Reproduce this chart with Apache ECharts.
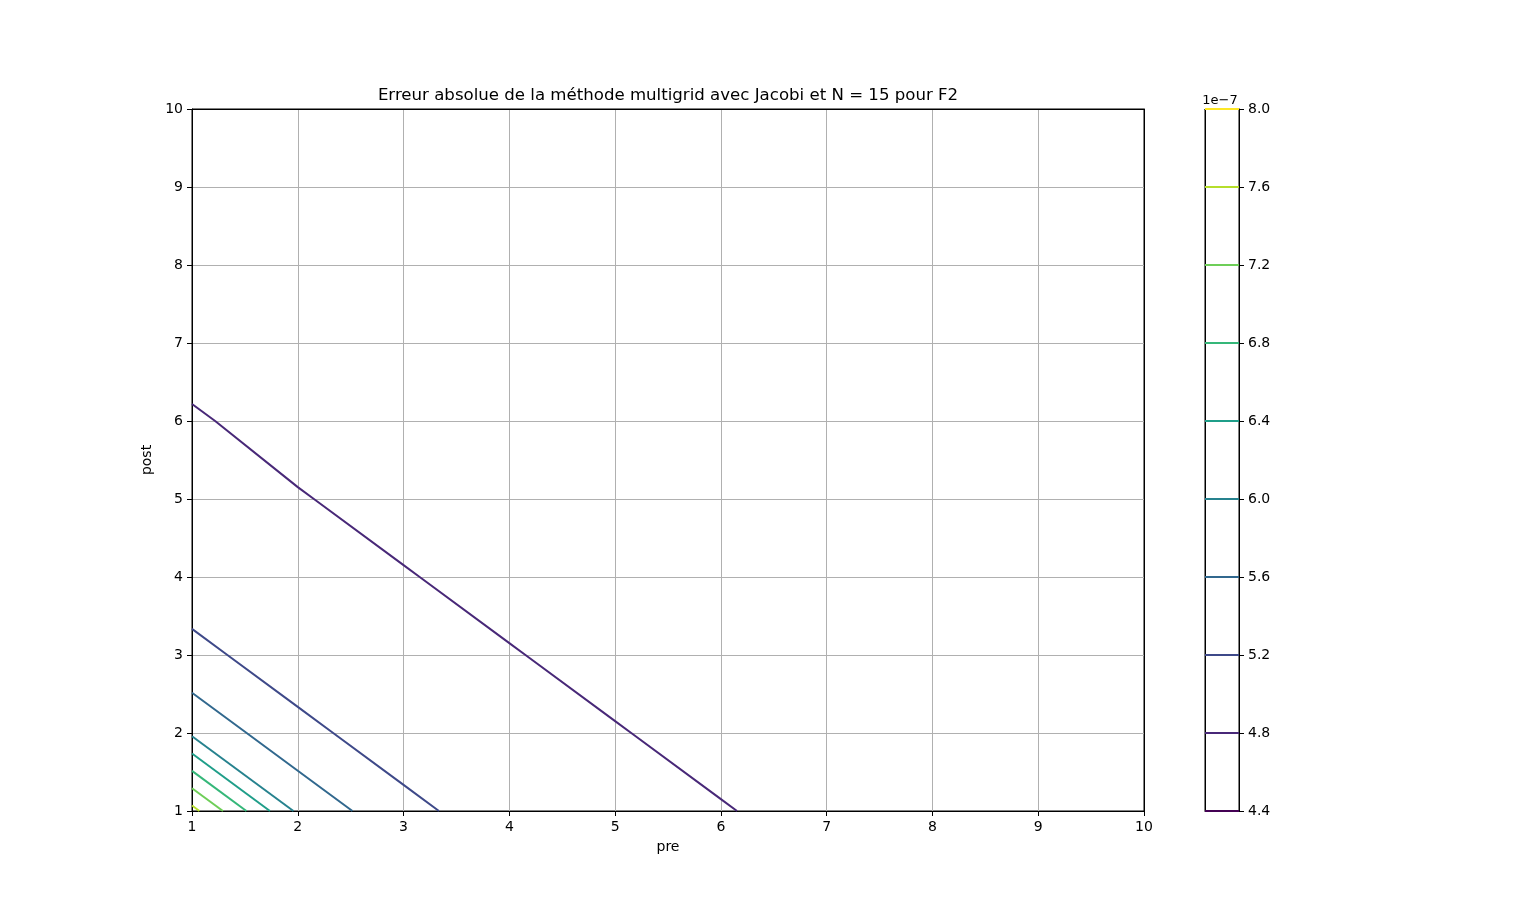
<!DOCTYPE html>
<html>
<head>
<meta charset="utf-8">
<script src="https://cdn.jsdelivr.net/npm/echarts@6/dist/echarts.min.js"></script>
<style>
html,body{margin:0;padding:0;background:#fff;}
#chart{width:1536px;height:911px;}
</style>
</head>
<body>
<div id="chart"></div>
<script>
// ---- data (error values in units of 1e-7) ----
const pre = [1, 2, 3, 4, 5, 6, 7, 8, 9, 10];
const post = [1, 2, 3, 4, 5, 6, 7, 8, 9, 10];
// rows: post = 1..10, columns: pre = 1..10
const errors = [
  [7.726, 5.926, 5.295, 5.011, 4.902, 4.818, 4.700, 4.641, 4.602, 4.574],
  [5.926, 5.295, 5.011, 4.902, 4.818, 4.700, 4.641, 4.602, 4.574, 4.553],
  [5.295, 5.011, 4.902, 4.818, 4.700, 4.641, 4.602, 4.574, 4.553, 4.537],
  [5.011, 4.902, 4.818, 4.700, 4.641, 4.602, 4.574, 4.553, 4.537, 4.524],
  [4.902, 4.818, 4.700, 4.641, 4.602, 4.574, 4.553, 4.537, 4.524, 4.514],
  [4.828, 4.700, 4.641, 4.602, 4.574, 4.553, 4.537, 4.524, 4.514, 4.506],
  [4.700, 4.641, 4.602, 4.574, 4.553, 4.537, 4.524, 4.514, 4.506, 4.499],
  [4.641, 4.602, 4.574, 4.553, 4.537, 4.524, 4.514, 4.506, 4.499, 4.494],
  [4.602, 4.574, 4.553, 4.537, 4.524, 4.514, 4.506, 4.499, 4.494, 4.489],
  [4.574, 4.553, 4.537, 4.524, 4.514, 4.506, 4.499, 4.494, 4.489, 4.485]
];
const levels = [4.4, 4.8, 5.2, 5.6, 6.0, 6.4, 6.8, 7.2, 7.6, 8.0];
const levelColors = ['#440154', '#482878', '#3e4989', '#31688e', '#26828e',
                     '#1f9e89', '#35b779', '#6ece58', '#b5de2b', '#fde725'];
const axisTicks = [1, 2, 3, 4, 5, 6, 7, 8, 9, 10];
const titleText = 'Erreur absolue de la méthode multigrid avec Jacobi et N = 15 pour F2';
const offsetText = '1e\u22127';

// ---- marching squares ----
function contourLines(L) {
  const segs = [];
  const nx = pre.length, ny = post.length;
  function cross(i1, j1, i2, j2) {
    const z1 = errors[j1][i1], z2 = errors[j2][i2];
    if ((z1 - L) * (z2 - L) >= 0 && !(z1 === L && z2 !== L)) return null;
    const t = (L - z1) / (z2 - z1);
    return [pre[i1] + t * (pre[i2] - pre[i1]), post[j1] + t * (post[j2] - post[j1])];
  }
  for (let j = 0; j < ny - 1; j++) {
    for (let i = 0; i < nx - 1; i++) {
      const pts = [];
      const b = cross(i, j, i + 1, j); if (b) pts.push(b);
      const r = cross(i + 1, j, i + 1, j + 1); if (r) pts.push(r);
      const t = cross(i, j + 1, i + 1, j + 1); if (t) pts.push(t);
      const l = cross(i, j, i, j + 1); if (l) pts.push(l);
      if (pts.length === 2) segs.push([pts[0], pts[1]]);
      else if (pts.length === 4) {
        const c = (errors[j][i] + errors[j][i + 1] + errors[j + 1][i] + errors[j + 1][i + 1]) / 4;
        if ((c - L) * (errors[j][i] - L) > 0) { segs.push([pts[0], pts[1]]); segs.push([pts[2], pts[3]]); }
        else { segs.push([pts[0], pts[3]]); segs.push([pts[1], pts[2]]); }
      }
    }
  }
  const key = p => p[0].toFixed(6) + ',' + p[1].toFixed(6);
  const used = new Array(segs.length).fill(false);
  const byKey = {};
  segs.forEach((s, k) => {
    [key(s[0]), key(s[1])].forEach(kk => { (byKey[kk] = byKey[kk] || []).push(k); });
  });
  const lines = [];
  function extend(line) {
    let grown = true;
    while (grown) {
      grown = false;
      const end = line[line.length - 1];
      const cand = byKey[key(end)] || [];
      for (const k of cand) {
        if (used[k]) continue;
        used[k] = true;
        const s = segs[k];
        line.push(key(s[0]) === key(end) ? s[1] : s[0]);
        grown = true;
        break;
      }
    }
  }
  for (let k = 0; k < segs.length; k++) {
    if (used[k]) continue;
    used[k] = true;
    const line = [segs[k][0], segs[k][1]];
    extend(line);
    line.reverse();
    extend(line);
    lines.push(line);
  }
  return lines;
}

const FONT = 'DejaVu Sans';
const series = [];
levels.forEach((L, idx) => {
  contourLines(L).forEach(line => {
    series.push({
      type: 'line', xAxisIndex: 0, yAxisIndex: 0,
      data: line, symbol: 'none', showSymbol: false, silent: true,
      lineStyle: { color: levelColors[idx], width: 2 },
      clip: true, animation: false, z: 3
    });
  });
  series.push({
    type: 'line', xAxisIndex: 1, yAxisIndex: 1,
    data: [[0, L], [1, L]], symbol: 'none', showSymbol: false, silent: true,
    lineStyle: { color: levelColors[idx], width: 2 },
    clip: false, animation: false, z: 3
  });
});

const axisCommon = {
  axisLine: { show: true, onZero: false, lineStyle: { color: '#000', width: 1 } },
  axisTick: { show: true, inside: false, length: 5, lineStyle: { color: '#000', width: 1 } },
  axisLabel: { fontSize: 14, color: '#000', margin: 9, fontFamily: FONT },
  nameTextStyle: { fontSize: 14, color: '#000', fontFamily: FONT }
};
const gridLine = { show: true, showMinLine: false, showMaxLine: false, lineStyle: { color: '#b0b0b0', width: 1 } };
// frame-only axes for spines
const spine = { show: true, onZero: false, lineStyle: { color: '#000', width: 1 } };
function spineAxis(gridIndex, position, min, max) {
  return { gridIndex: gridIndex, type: 'value', position: position, min: min, max: max, axisLine: spine,
    axisTick: { show: false }, axisLabel: { show: false }, splitLine: { show: false } };
}

const chart = echarts.init(document.getElementById('chart'), null, { renderer: 'canvas' });
chart.setOption({
  backgroundColor: '#fff',
  animation: false,
  grid: [
    { left: 192, top: 109, width: 952, height: 702, show: true, borderColor: '#000', borderWidth: 1, backgroundColor: '#fff' },
    { left: 1205, top: 109, width: 34, height: 702, show: true, borderColor: '#000', borderWidth: 1, backgroundColor: '#fff' }
  ],
  xAxis: [
    Object.assign({}, axisCommon, {
      gridIndex: 0, type: 'value', min: axisTicks[0], max: axisTicks[axisTicks.length - 1], interval: 1,
      name: 'pre', nameLocation: 'middle', nameGap: 29,
      splitLine: gridLine
    }),
    { gridIndex: 1, type: 'value', min: 0, max: 1, show: false },
    spineAxis(0, 'top', 1, 10),
    spineAxis(1, 'top', 0, 1),
    spineAxis(1, 'bottom', 0, 1)
  ],
  yAxis: [
    Object.assign({}, axisCommon, {
      gridIndex: 0, type: 'value', min: axisTicks[0], max: axisTicks[axisTicks.length - 1], interval: 1,
      name: 'post', nameLocation: 'middle', nameGap: 31,
      splitLine: gridLine
    }),
    Object.assign({}, axisCommon, {
      gridIndex: 1, type: 'value', position: 'right', min: levels[0], max: levels[levels.length - 1], interval: 0.4,
      splitLine: { show: false },
      axisLabel: { fontSize: 14, color: '#000', margin: 9, fontFamily: FONT, formatter: v => v.toFixed(1) }
    }),
    spineAxis(0, 'right', 1, 10),
    spineAxis(1, 'left', 0, 1)
  ],
  graphic: [
    { type: 'text', x: 668, y: 96, silent: true,
      style: { text: titleText, fontSize: 16.6, fontFamily: FONT, fill: '#000', align: 'center', verticalAlign: 'middle', textAlign: 'center', textVerticalAlign: 'middle' } },
    { type: 'text', x: 1220, y: 101, silent: true,
      style: { text: offsetText, fontSize: 13, fontFamily: FONT, fill: '#000', align: 'center', verticalAlign: 'middle', textAlign: 'center', textVerticalAlign: 'middle' } }
  ],
  series: series
});
</script>
</body>
</html>
